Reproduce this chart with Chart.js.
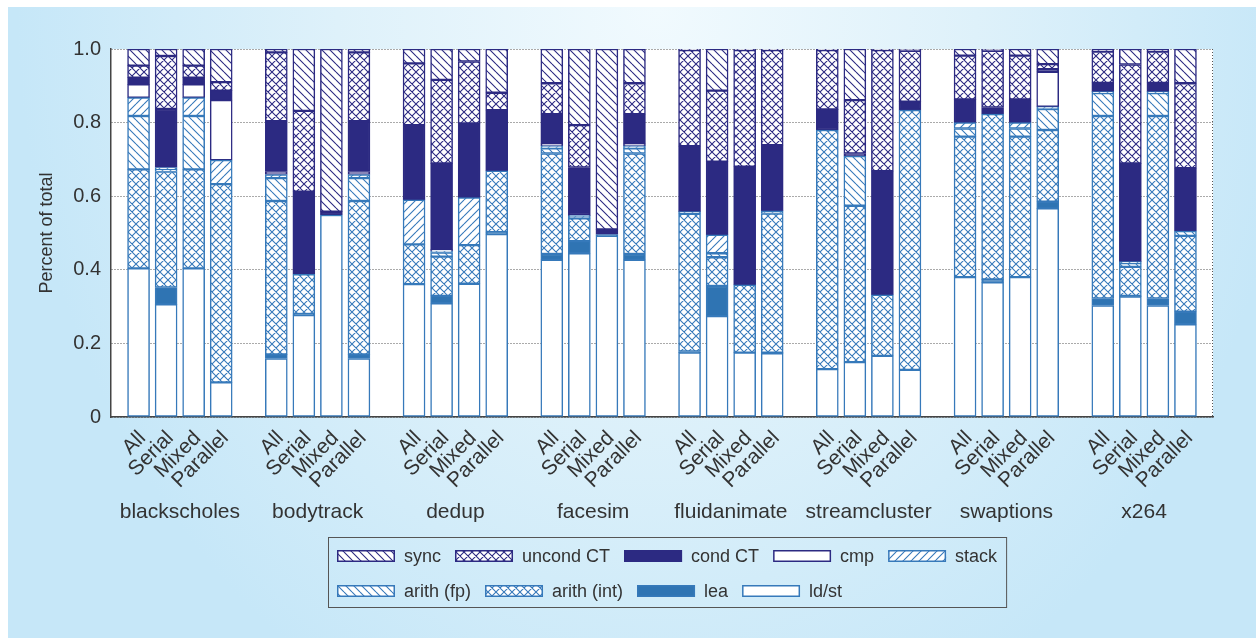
<!DOCTYPE html>
<html>
<head>
<meta charset="utf-8">
<title>Instruction mix by benchmark and phase</title>
<script src="https://cdn.jsdelivr.net/npm/chart.js@4.4.1/dist/chart.umd.min.js"></script>
<style>
  html, body { margin: 0; padding: 0; background: #fff; }
  #wrap { position: relative; width: 1256px; height: 638px; overflow: hidden; }
  #bg {
    position: absolute; left: 8px; top: 7px; right: 0; bottom: 0;
    background: radial-gradient(ellipse 640px 780px at 52% 0%, #f1fafe 0%, #def1fa 50%, #c6e7f8 100%);
  }
  canvas { position: absolute; left: 0; top: 0; }
</style>
</head>
<body>
<div id="wrap">
  <div id="bg"></div>
  <canvas id="chart" width="1256" height="638"></canvas>
</div>
<script>
// Benchmarks and execution phases (four bars per benchmark)
const benchmarks = ['blackscholes', 'bodytrack', 'dedup', 'facesim', 'fluidanimate', 'streamcluster', 'swaptions', 'x264'];
const phases = ['All', 'Serial', 'Mixed', 'Parallel'];

// Y axis ticks
const yTicks = [0, 0.2, 0.4, 0.6, 0.8, 1.0];
const yTickLabels = ['0', '0.2', '0.4', '0.6', '0.8', '1.0'];

// Fraction of dynamic instructions per class; 4 values per benchmark (All, Serial, Mixed, Parallel)
const ldst = [0.404, 0.306, 0.404, 0.094, 0.159, 0.277, 0.549, 0.159, 0.361, 0.309, 0.362, 0.497, 0.427, 0.445, 0.492, 0.427,
              0.175, 0.274, 0.175, 0.173, 0.130, 0.149, 0.166, 0.128, 0.380, 0.366, 0.380, 0.567, 0.303, 0.327, 0.303, 0.252];
const lea = [0, 0.046, 0, 0, 0.011, 0.003, 0, 0.011, 0, 0.020, 0, 0.005, 0.016, 0.033, 0.004, 0.016,
             0.003, 0.082, 0, 0.002, 0, 0, 0, 0, 0, 0.008, 0, 0.018, 0.019, 0.002, 0.019, 0.034];
const arithInt = [0.269, 0.315, 0.269, 0.539, 0.417, 0.108, 0, 0.417, 0.108, 0.107, 0.105, 0.167, 0.273, 0.062, 0, 0.273,
                  0.374, 0.078, 0.184, 0.378, 0.650, 0.425, 0.166, 0.706, 0.382, 0.449, 0.382, 0.195, 0.496, 0.079, 0.496, 0.206];
const arithFp = [0.145, 0.005, 0.145, 0, 0.062, 0, 0, 0.062, 0, 0.011, 0, 0, 0.014, 0, 0, 0.014,
                 0.006, 0.011, 0, 0.007, 0, 0.135, 0, 0, 0.022, 0, 0.022, 0.057, 0.062, 0.010, 0.062, 0.013];
const stackOps = [0.050, 0.006, 0.050, 0.065, 0.010, 0, 0, 0.010, 0.121, 0.004, 0.129, 0, 0.007, 0.007, 0, 0.007,
                  0, 0.050, 0, 0, 0, 0, 0, 0, 0.016, 0, 0.016, 0.006, 0.004, 0.004, 0.004, 0];
const cmp = [0.036, 0, 0.036, 0.163, 0.008, 0, 0, 0.008, 0, 0.004, 0, 0, 0.005, 0.002, 0, 0.005,
             0, 0, 0, 0, 0, 0, 0, 0, 0, 0, 0, 0.095, 0, 0, 0, 0];
const condCT = [0.018, 0.159, 0.018, 0.026, 0.137, 0.224, 0.009, 0.137, 0.203, 0.234, 0.202, 0.165, 0.081, 0.129, 0.014, 0.081,
                0.178, 0.199, 0.321, 0.179, 0.056, 0.007, 0.336, 0.023, 0.063, 0.018, 0.063, 0.007, 0.024, 0.267, 0.024, 0.171];
const uncondCT = [0.033, 0.144, 0.033, 0.023, 0.187, 0.220, 0, 0.187, 0.168, 0.227, 0.168, 0.047, 0.084, 0.115, 0, 0.084,
                  0.261, 0.193, 0.317, 0.258, 0.161, 0.145, 0.329, 0.138, 0.119, 0.154, 0.119, 0.014, 0.085, 0.269, 0.085, 0.231];
const sync = [0.045, 0.019, 0.045, 0.090, 0.009, 0.168, 0.442, 0.009, 0.039, 0.084, 0.034, 0.119, 0.093, 0.207, 0.490, 0.093,
              0.003, 0.113, 0.003, 0.003, 0.003, 0.139, 0.003, 0.005, 0.018, 0.005, 0.018, 0.041, 0.007, 0.042, 0.007, 0.093];

const NAVY = '#2c2a82';
const BLUE = '#3679ba';
const LEA_BLUE = '#2f74b3';
const TEXT = '#333333';
const FONT = "'Liberation Sans', Arial, Helvetica, sans-serif";

// Hatch fills: 'back' = \\\, 'fwd' = ///, 'cross' = both
function hatch(kind, color, size, lw) {
  const c = document.createElement('canvas');
  c.width = size; c.height = size;
  const g = c.getContext('2d');
  g.fillStyle = '#fff';
  g.fillRect(0, 0, size, size);
  g.strokeStyle = color;
  g.lineWidth = lw;
  g.beginPath();
  if (kind === 'back' || kind === 'cross') {
    for (let k = -1; k <= 1; k++) { g.moveTo(0, k * size); g.lineTo(size, (k + 1) * size); }
  }
  if (kind === 'fwd' || kind === 'cross') {
    for (let k = 0; k <= 2; k++) { g.moveTo(0, k * size); g.lineTo(size, (k - 1) * size); }
  }
  g.stroke();
  return g.createPattern(c, 'repeat');
}

// Category slots: one empty slot at each end and between benchmarks
const labels = [''];
const slotOf = [];
benchmarks.forEach((b, gi) => {
  if (gi > 0) labels.push('');
  phases.forEach(p => { slotOf.push(labels.length); labels.push(p); });
});
labels.push('');

function toSlots(values) {
  const out = labels.map(() => null);
  values.forEach((v, i) => { out[slotOf[i]] = v; });
  return out;
}

// Bottom-to-top stacking order
const series = [
  { label: 'ld/st',       values: ldst,     fill: '#ffffff',                     border: BLUE },
  { label: 'lea',         values: lea,      fill: LEA_BLUE,                      border: BLUE },
  { label: 'arith (int)', values: arithInt, fill: hatch('cross', BLUE, 8, 1.1),  border: BLUE },
  { label: 'arith (fp)',  values: arithFp,  fill: hatch('back', BLUE, 8, 1.1),   border: BLUE },
  { label: 'stack',       values: stackOps, fill: hatch('fwd', BLUE, 8, 1.1),    border: BLUE },
  { label: 'cmp',         values: cmp,      fill: '#ffffff',                     border: NAVY },
  { label: 'cond CT',     values: condCT,   fill: NAVY,                          border: NAVY },
  { label: 'uncond CT',   values: uncondCT, fill: hatch('cross', NAVY, 8, 1.1),  border: NAVY },
  { label: 'sync',        values: sync,     fill: hatch('back', NAVY, 8, 1.1),   border: NAVY }
];

const datasets = series.map(s => ({
  label: s.label,
  data: toSlots(s.values),
  backgroundColor: s.fill,
  borderColor: s.border,
  borderWidth: 1.5,
  borderSkipped: false,
  barThickness: 22
}));

// White plotting area plus the dotted right-hand frame line
const plotFrame = {
  id: 'plotFrame',
  beforeDraw(chart) {
    const { ctx, chartArea: a } = chart;
    ctx.save();
    ctx.fillStyle = '#ffffff';
    ctx.fillRect(a.left, a.top, a.right - a.left, a.bottom - a.top);
    ctx.restore();
  },
  beforeDatasetsDraw(chart) {
    const { ctx, chartArea: a } = chart;
    ctx.save();
    ctx.strokeStyle = '#555';
    ctx.lineWidth = 1;
    ctx.setLineDash([1, 2]);
    ctx.beginPath();
    ctx.moveTo(a.right - 0.5, a.top);
    ctx.lineTo(a.right - 0.5, a.bottom);
    ctx.stroke();
    ctx.restore();
  }
};

// Benchmark names centred under each group of four bars
const groupNames = {
  id: 'groupNames',
  afterDraw(chart) {
    const { ctx } = chart;
    const x = chart.scales.x;
    ctx.save();
    ctx.font = '21px ' + FONT;
    ctx.fillStyle = TEXT;
    ctx.textAlign = 'center';
    ctx.textBaseline = 'alphabetic';
    benchmarks.forEach((name, gi) => {
      const cx = (x.getPixelForValue(slotOf[gi * 4 + 1]) + x.getPixelForValue(slotOf[gi * 4 + 2])) / 2;
      ctx.fillText(name, cx, 518);
    });
    ctx.restore();
  }
};

// Boxed two-row key below the axis
const boxedKey = {
  id: 'boxedKey',
  afterDraw(chart) {
    const { ctx } = chart;
    const rows = [['sync', 'uncond CT', 'cond CT', 'cmp', 'stack'], ['arith (fp)', 'arith (int)', 'lea', 'ld/st']];
    const swW = 58, swH = 12, txtGap = 9, itemGap = 14, padX = 9;
    const rowY = [556, 591];
    ctx.save();
    ctx.font = '18px ' + FONT;
    const widths = rows.map(r => r.reduce((w, name, i) => w + swW + txtGap + ctx.measureText(name).width + (i ? itemGap : 0), 0));
    const boxW = Math.max(...widths) + 2 * padX;
    const boxL = Math.round(667 - boxW / 2);
    ctx.strokeStyle = '#555';
    ctx.lineWidth = 1;
    ctx.strokeRect(boxL + 0.5, 537.5, boxW, 70);
    ctx.textBaseline = 'middle';
    ctx.textAlign = 'left';
    rows.forEach((r, ri) => {
      let x = boxL + padX;
      r.forEach(name => {
        const ds = datasets.find(d => d.label === name);
        const y = rowY[ri];
        ctx.fillStyle = ds.backgroundColor;
        ctx.fillRect(x, y - swH / 2, swW, swH);
        ctx.strokeStyle = ds.borderColor;
        ctx.lineWidth = 1.5;
        ctx.strokeRect(x + 0.75, y - swH / 2 + 0.75, swW - 1.5, swH - 1.5);
        ctx.fillStyle = TEXT;
        ctx.fillText(name, x + swW + txtGap, y + 1);
        x += swW + txtGap + ctx.measureText(name).width + itemGap;
      });
    });
    ctx.restore();
  }
};

new Chart(document.getElementById('chart'), {
  type: 'bar',
  data: { labels, datasets },
  options: {
    responsive: false,
    animation: false,
    devicePixelRatio: 1,
    layout: { padding: { left: 0, right: 43, top: 49, bottom: 0 } },
    plugins: { legend: { display: false }, tooltip: { enabled: false } },
    scales: {
      x: {
        stacked: true,
        offset: false,
        grid: { display: false },
        border: { display: true, color: '#444', width: 1.5 },
        ticks: {
          autoSkip: false,
          minRotation: 45,
          maxRotation: 45,
          padding: 1,
          labelOffset: 4,
          color: TEXT,
          font: { family: FONT, size: 21 }
        },
        afterFit(scale) { scale.height = 221; }
      },
      y: {
        stacked: true,
        min: 0,
        max: 1,
        grid: { color: '#555', lineWidth: 1, drawTicks: false },
        border: { display: true, color: '#444', width: 1.5, dash: [1, 2] },
        afterBuildTicks(scale) { scale.ticks = yTicks.map(v => ({ value: v })); },
        ticks: {
          padding: 10,
          color: TEXT,
          font: { family: FONT, size: 20 },
          callback: (v, i) => yTickLabels[i]
        },
        title: {
          display: true,
          text: 'Percent of total',
          color: TEXT,
          font: { family: FONT, size: 18 },
          padding: { top: 36, bottom: 0 }
        },
        afterFit(scale) { scale.width = 111; }
      }
    }
  },
  plugins: [plotFrame, groupNames, boxedKey]
});
</script>
</body>
</html>
